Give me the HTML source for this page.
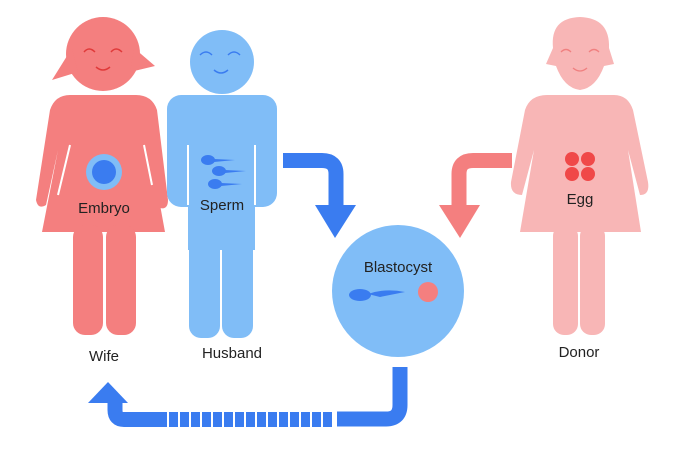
<!DOCTYPE html>
<html><head><style>html,body{margin:0;padding:0;background:#fff;}svg{display:block}</style></head>
<body>
<svg width="675" height="455" viewBox="0 0 675 455" xmlns="http://www.w3.org/2000/svg" font-family="'Liberation Sans',sans-serif">
<!-- Wife -->
<g fill="#f47f7f">
  <circle cx="103" cy="54" r="37"/>
  <path d="M72 48 L52 80 L78 72 Z"/>
  <path d="M134 48 L155 66 L130 72 Z"/>
  <path d="M70 95 L136 95 Q152 95 157 110 L168 200 Q168 210 160 208 L150 150 L165 232 L42 232 L58 150 L46 205 Q38 210 36 200 L50 110 Q55 95 70 95 Z"/>
  <rect x="73" y="225" width="30" height="110" rx="12"/>
  <rect x="106" y="225" width="30" height="110" rx="12"/>
</g>
<path d="M84 52 Q89 46 95 52 M111 52 Q116 46 122 52 M96 67 Q103 73 110 67" stroke="#e03a3a" stroke-width="1.5" fill="none"/>
<line x1="70" y1="145" x2="58" y2="195" stroke="#fff" stroke-width="2"/>
<line x1="144" y1="145" x2="152" y2="185" stroke="#fff" stroke-width="2"/>
<circle cx="104" cy="172" r="18" fill="#80bdf7"/>
<circle cx="104" cy="172" r="12" fill="#3a7cf0"/>
<text x="104" y="213" font-size="15" text-anchor="middle" fill="#222">Embryo</text>
<text x="104" y="361" font-size="15" text-anchor="middle" fill="#222">Wife</text>
<!-- Husband -->
<g fill="#80bdf7">
  <circle cx="222" cy="62" r="32"/>
  <rect x="167" y="95" width="110" height="112" rx="14"/>
  <rect x="188" y="150" width="67" height="100"/>
  <rect x="189" y="200" width="31" height="138" rx="12"/>
  <rect x="222" y="200" width="31" height="138" rx="12"/>
</g>
<line x1="188" y1="145" x2="188" y2="205" stroke="#fff" stroke-width="2"/>
<line x1="255" y1="145" x2="255" y2="205" stroke="#fff" stroke-width="2"/>
<path d="M200 55 Q206 49 212 55 M228 55 Q234 49 240 55 M214 70 Q221 76 228 70" stroke="#3a7cf0" stroke-width="1.5" fill="none"/>
<g fill="#3a7cf0">
  <ellipse cx="208" cy="160" rx="7" ry="5"/><path d="M214 159 L235 160 L214 162Z"/>
  <ellipse cx="219" cy="171" rx="7" ry="5"/><path d="M225 170 L246 171 L225 173Z"/>
  <ellipse cx="215" cy="184" rx="7" ry="5"/><path d="M221 183 L242 184 L221 186Z"/>
</g>
<text x="222" y="210" font-size="15" text-anchor="middle" fill="#222">Sperm</text>
<text x="232" y="358" font-size="15" text-anchor="middle" fill="#222">Husband</text>
<!-- Blue arrow -->
<path d="M283 160.5 L322 160.5 Q336 160.5 336 174 L336 208" stroke="#3a7cf0" stroke-width="15" fill="none"/>
<path d="M315 205 L356 205 L335 238 Z" fill="#3a7cf0"/>
<!-- Red arrow -->
<path d="M512 160.5 L473 160.5 Q459 160.5 459 174 L459 208" stroke="#f47f7f" stroke-width="15" fill="none"/>
<path d="M439 205 L480 205 L460 238 Z" fill="#f47f7f"/>
<!-- Blastocyst -->
<circle cx="398" cy="291" r="66" fill="#80bdf7"/>
<text x="398" y="272" font-size="15" text-anchor="middle" fill="#222">Blastocyst</text>
<ellipse cx="360" cy="295" rx="11" ry="6" fill="#3a7cf0"/>
<path d="M368 294 Q385 288 405 292 L380 297 Z" fill="#3a7cf0"/>
<circle cx="428" cy="292" r="10" fill="#f47f7f"/>
<!-- Donor -->
<g fill="#f8b6b6">
  <path d="M553 48 Q550 18 580 17 Q610 18 609 48 L614 64 L604 66 Q596 88 580 90 Q564 88 556 66 L546 64 Z"/>
  <path d="M547 95 L614 95 Q628 95 633 110 L648 182 Q650 195 640 195 L628 150 L641 232 L520 232 L534 150 L522 195 Q510 195 511 182 L525 110 Q530 95 547 95 Z"/>
  <rect x="553" y="225" width="25" height="110" rx="11"/>
  <rect x="580" y="225" width="25" height="110" rx="11"/>
</g>
<path d="M561 52 Q566 47 571 52 M589 52 Q594 47 599 52 M573 68 Q580 74 587 68" stroke="#f08080" stroke-width="1.3" fill="none"/>
<g fill="#f04848">
  <circle cx="572" cy="159" r="7"/><circle cx="588" cy="159" r="7"/>
  <circle cx="572" cy="174" r="7"/><circle cx="588" cy="174" r="7"/>
</g>
<text x="580" y="204" font-size="15" text-anchor="middle" fill="#222">Egg</text>
<text x="579" y="357" font-size="15" text-anchor="middle" fill="#222">Donor</text>
<!-- Bottom arrow -->
<path d="M400 367 L400 405 Q400 419 386 419 L337 419" stroke="#3a7cf0" stroke-width="15" fill="none"/>
<g fill="#3a7cf0">
  <rect x="323" y="412" width="9" height="15"/><rect x="312" y="412" width="9" height="15"/>
  <rect x="301" y="412" width="9" height="15"/><rect x="290" y="412" width="9" height="15"/>
  <rect x="279" y="412" width="9" height="15"/><rect x="268" y="412" width="9" height="15"/>
  <rect x="257" y="412" width="9" height="15"/><rect x="246" y="412" width="9" height="15"/>
  <rect x="235" y="412" width="9" height="15"/><rect x="224" y="412" width="9" height="15"/>
  <rect x="213" y="412" width="9" height="15"/><rect x="202" y="412" width="9" height="15"/>
  <rect x="191" y="412" width="9" height="15"/><rect x="180" y="412" width="9" height="15"/>
  <rect x="169" y="412" width="9" height="15"/>
</g>
<path d="M167 419.5 L124 419.5 Q115 419.5 115 410 L115 400" stroke="#3a7cf0" stroke-width="15" fill="none"/>
<path d="M88 403 L128 403 L108 382 Z" fill="#3a7cf0"/>
</svg>
</body></html>
